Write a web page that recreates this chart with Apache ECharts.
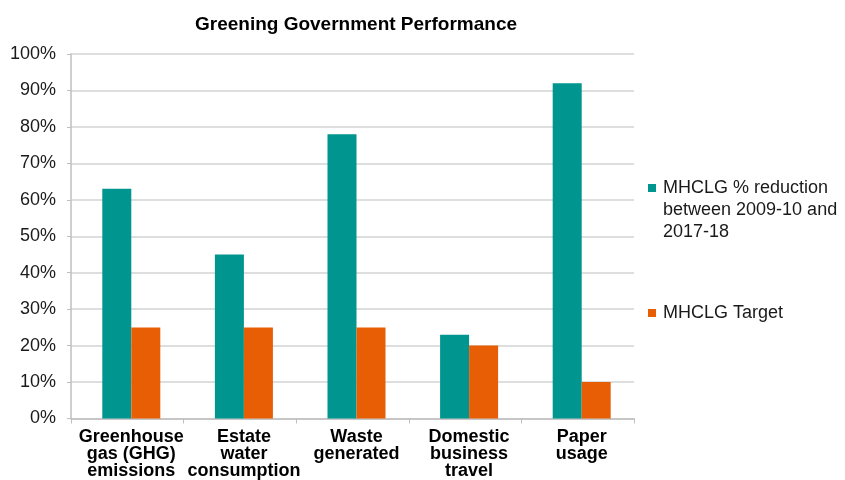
<!DOCTYPE html>
<html>
<head>
<meta charset="utf-8">
<script src="https://cdn.jsdelivr.net/npm/echarts@6/dist/echarts.min.js"></script>
<style>
  html, body { margin: 0; padding: 0; background: #fff; }
  #chart { width: 845px; height: 480px; }
</style>
</head>
<body>
<div id="chart"></div>
<script>
// Greening Government Performance: reduction achieved vs target, per measure
const categories = [
  'Greenhouse\ngas (GHG)\nemissions',
  'Estate\nwater\nconsumption',
  'Waste\ngenerated',
  'Domestic\nbusiness\ntravel',
  'Paper\nusage'
];
const seriesNames = ['MHCLG % reduction\nbetween 2009-10 and\n2017-18', 'MHCLG Target'];
const reduction = [63, 45, 78, 23, 92];
const target = [25, 25, 25, 20, 10];
const yTicks = [0, 10, 20, 30, 40, 50, 60, 70, 80, 90, 100];

const colors = ['#00958f', '#e85e05'];
const font = 'Liberation Sans, Arial, sans-serif';

const chart = echarts.init(document.getElementById('chart'));

// Legend drawn as graphic: small square swatch aligned with the first text line
const legendTops = [177, 302];
const legendGraphics = [];
seriesNames.forEach((name, i) => {
  legendGraphics.push({
    type: 'rect', left: 648, top: legendTops[i] + 7,
    shape: { width: 8, height: 8 },
    style: { fill: colors[i] }
  });
  legendGraphics.push({
    type: 'text', left: 663, top: legendTops[i],
    style: {
      text: name, fill: '#1a1a1a',
      font: '18px ' + font, lineHeight: 22
    }
  });
});

chart.setOption({
  animation: false,
  title: {
    text: 'Greening Government Performance',
    left: 351, top: 10, textAlign: 'center',
    textStyle: { fontFamily: font, fontSize: 19, fontWeight: 'bold', color: '#000' }
  },
  grid: { left: 71, right: 211, top: 54, bottom: 60, containLabel: false },
  xAxis: {
    type: 'category',
    data: categories,
    axisLine: { lineStyle: { color: '#bfbfbf', width: 1.5 } },
    axisTick: { show: true, length: 5, lineStyle: { color: '#bfbfbf' } },
    axisLabel: {
      interval: 0, margin: 10, padding: [0, 0, 0, 8],
      fontFamily: font, fontSize: 18, fontWeight: 'bold', color: '#000', lineHeight: 17
    }
  },
  yAxis: {
    type: 'value', min: 0, max: 100, interval: 10,
    axisLine: { show: true, lineStyle: { color: '#bfbfbf', width: 1.5 } },
    axisTick: { show: true, length: 4, lineStyle: { color: '#bfbfbf' } },
    splitLine: { lineStyle: { color: '#d0d3d4', width: 1.5 } },
    axisLabel: {
      margin: 15,
      fontFamily: font, fontSize: 18, color: '#1a1a1a',
      formatter: v => yTicks.includes(v) ? v + '%' : ''
    }
  },
  series: [
    {
      // empty leading slot: nudges each bar pair slightly right of the category centre
      name: 'lead', type: 'bar', data: [], silent: true,
      itemStyle: { color: 'transparent' }, barWidth: 8, barGap: '0%'
    },
    {
      name: seriesNames[0], type: 'bar', data: reduction,
      itemStyle: { color: colors[0] }, barWidth: 29, barGap: '0%'
    },
    {
      name: seriesNames[1], type: 'bar', data: target,
      itemStyle: { color: colors[1] }, barWidth: 29, barGap: '0%'
    }
  ],
  graphic: legendGraphics
});
</script>
</body>
</html>
